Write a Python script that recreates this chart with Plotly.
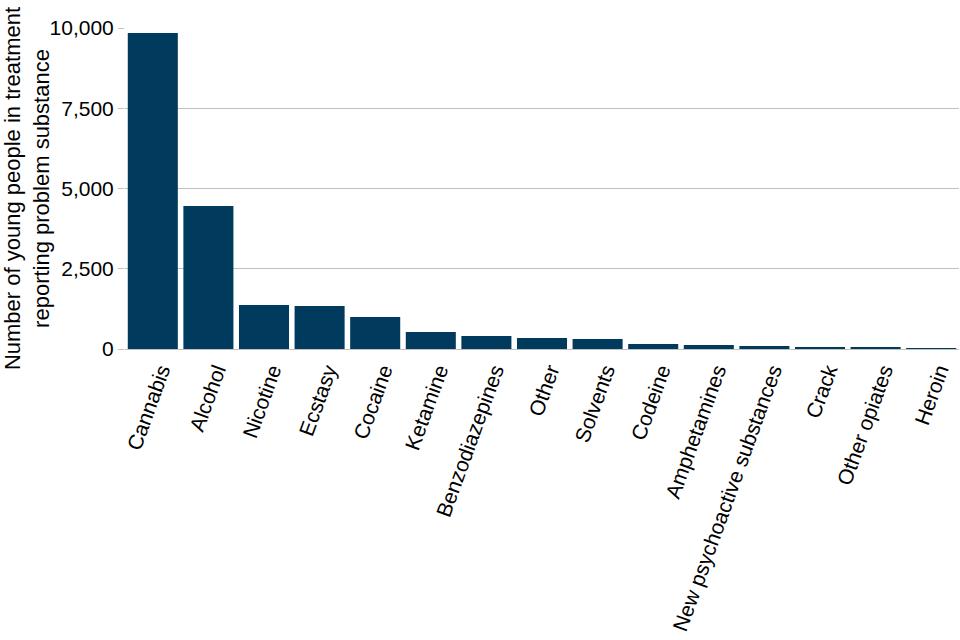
import plotly.graph_objects as go

categories = ["Cannabis", "Alcohol", "Nicotine", "Ecstasy", "Cocaine", "Ketamine",
              "Benzodiazepines", "Other", "Solvents", "Codeine", "Amphetamines",
              "New psychoactive substances", "Crack", "Other opiates", "Heroin"]
values = [9844, 4455, 1371, 1340, 997, 530, 405, 343, 312, 156, 125, 93, 62, 62, 31]
y_ticks = [0, 2500, 5000, 7500, 10000]
y_tick_labels = ["0", "2,500", "5,000", "7,500", "10,000"]

fig = go.Figure(go.Bar(x=categories, y=values, marker_color="#003a5d",
                       marker_line_width=0))

fig.update_layout(
    width=960, height=640,
    paper_bgcolor="white", plot_bgcolor="white",
    margin=dict(l=125, r=1, t=28, b=291),
    bargap=0.1,
    font=dict(family="Liberation Sans, Arial, sans-serif", size=21, color="black"),
    showlegend=False,
)
fig.update_xaxes(tickangle=-70, showgrid=False, showline=True, linecolor="#c0c0c0",
                 linewidth=1, ticks="", tickfont=dict(size=21), automargin=False,
                 ticklabelshift=8)
fig.update_yaxes(range=[0, 10000], tickvals=y_ticks, ticktext=y_tick_labels,
                 showgrid=True, gridcolor="#c0c0c0", gridwidth=1, zeroline=False,
                 ticks="outside", ticklen=6, tickcolor="#c0c0c0",
                 tickfont=dict(size=21), automargin=False,
                 title=dict(text="Number of young people in treatment<br>reporting problem substance",
                            font=dict(size=22), standoff=6))

fig.write_html("out.html", post_script="document.body.style.margin='0';",
               config={"displayModeBar": False})
